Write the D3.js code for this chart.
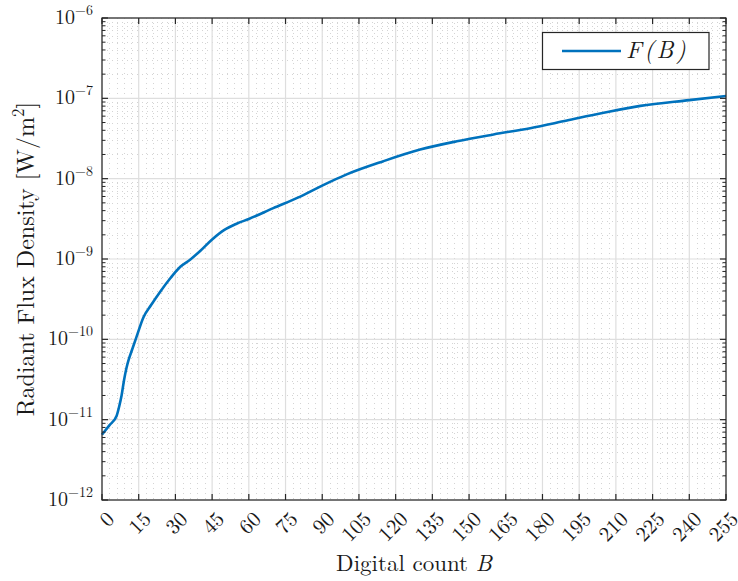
<!DOCTYPE html>
<html>
<head>
<meta charset="utf-8">
<script src="https://cdn.jsdelivr.net/npm/d3@7"></script>
<style>
  html, body { margin: 0; padding: 0; background: #fff; }
  svg { display: block; }
</style>
</head>
<body>
<svg id="chart" width="738" height="581"></svg>
<script>
// Digital count samples and the corresponding radiant flux density F(B) in W/m^2
const counts = [0, 3, 6, 7, 8, 9, 10, 11, 12, 14, 17, 20, 24, 28, 32, 36, 40, 45, 50, 55, 60,
                70, 80, 90, 100, 115, 130, 145, 160, 175, 190, 205, 220, 240, 255];
const flux = [6.5e-12, 8.5e-12, 1.12e-11, 1.45e-11, 2.0e-11, 3.1e-11, 4.4e-11, 5.7e-11, 7.0e-11,
              1.05e-10, 1.9e-10, 2.65e-10, 4.0e-10, 5.8e-10, 8.0e-10, 9.8e-10, 1.25e-9, 1.75e-9,
              2.3e-9, 2.75e-9, 3.15e-9, 4.3e-9, 5.8e-9, 8.2e-9, 1.13e-8, 1.65e-8, 2.3e-8, 2.92e-8,
              3.55e-8, 4.25e-8, 5.3e-8, 6.6e-8, 8.05e-8, 9.5e-8, 1.07e-7];

const xTicks = d3.range(0, 256, 15);
const xMinor = d3.range(0, 256, 3);
const yTickExps = [-12, -11, -10, -9, -8, -7, -6];
const seriesLabel = "F(B)";

const svg = d3.select("#chart")
  .style("font-family", "'Latin Modern Roman', 'Liberation Serif', serif");
const plotL = 102, plotR = 726, plotT = 18, plotB = 500;
const textColor = "#1a1a1a";

const x = d3.scaleLinear().domain([0, 255]).range([plotL, plotR]);
const y = d3.scaleLog().domain([1e-12, 1e-6]).range([plotB, plotT]);

const yMajor = yTickExps.map(e => Math.pow(10, e));
const yMinor = [];
yTickExps.slice(0, -1).forEach(e => {
  for (let k = 2; k <= 9; k++) yMinor.push(k * Math.pow(10, e));
});

const g = svg.append("g");

// minor grid (dotted)
const minorColor = "#d4d4d4";
g.selectAll(".xminor").data(xMinor.filter(v => v % 15 !== 0)).join("line")
  .attr("x1", d => Math.round(x(d)) + 0.5).attr("x2", d => Math.round(x(d)) + 0.5)
  .attr("y1", plotT).attr("y2", plotB)
  .attr("stroke", minorColor).attr("stroke-width", 1)
  .attr("stroke-dasharray", "1,4");
g.selectAll(".yminor").data(yMinor).join("line")
  .attr("x1", plotL).attr("x2", plotR)
  .attr("y1", d => Math.round(y(d)) + 0.5).attr("y2", d => Math.round(y(d)) + 0.5)
  .attr("stroke", minorColor).attr("stroke-width", 1)
  .attr("stroke-dasharray", "1,4");

// major grid
const majorColor = "#dedede";
g.selectAll(".xmajor").data(xTicks).join("line")
  .attr("x1", d => x(d)).attr("x2", d => x(d))
  .attr("y1", plotT).attr("y2", plotB)
  .attr("stroke", majorColor).attr("stroke-width", 1.2);
g.selectAll(".ymajor").data(yMajor).join("line")
  .attr("x1", plotL).attr("x2", plotR)
  .attr("y1", d => y(d)).attr("y2", d => y(d))
  .attr("stroke", majorColor).attr("stroke-width", 1.2);

// data curve
const line = d3.line()
  .x((d, i) => x(counts[i]))
  .y(d => y(d))
  .curve(d3.curveMonotoneX);
g.append("path")
  .datum(flux)
  .attr("d", line)
  .attr("fill", "none")
  .attr("stroke", "#0072BD")
  .attr("stroke-width", 2.6)
  .attr("stroke-linejoin", "round");

// axes box
const axisColor = "#262626";
g.append("rect")
  .attr("x", plotL).attr("y", plotT)
  .attr("width", plotR - plotL).attr("height", plotB - plotT)
  .attr("fill", "none").attr("stroke", axisColor).attr("stroke-width", 1.2);

// x ticks (inward, bottom and top)
const tickLen = 6, minorLen = 3.5;
xTicks.forEach(v => {
  g.append("line").attr("x1", x(v)).attr("x2", x(v)).attr("y1", plotB).attr("y2", plotB - tickLen)
    .attr("stroke", axisColor).attr("stroke-width", 1.2);
  g.append("line").attr("x1", x(v)).attr("x2", x(v)).attr("y1", plotT).attr("y2", plotT + tickLen)
    .attr("stroke", axisColor).attr("stroke-width", 1.2);
});
// y ticks (inward, left and right)
yMajor.forEach(v => {
  g.append("line").attr("x1", plotL).attr("x2", plotL + tickLen).attr("y1", y(v)).attr("y2", y(v))
    .attr("stroke", axisColor).attr("stroke-width", 1.2);
  g.append("line").attr("x1", plotR).attr("x2", plotR - tickLen).attr("y1", y(v)).attr("y2", y(v))
    .attr("stroke", axisColor).attr("stroke-width", 1.2);
});
yMinor.forEach(v => {
  g.append("line").attr("x1", plotL).attr("x2", plotL + minorLen).attr("y1", y(v)).attr("y2", y(v))
    .attr("stroke", axisColor).attr("stroke-width", 1);
  g.append("line").attr("x1", plotR).attr("x2", plotR - minorLen).attr("y1", y(v)).attr("y2", y(v))
    .attr("stroke", axisColor).attr("stroke-width", 1);
});

// x tick labels, rotated
g.selectAll(".xlab").data(xTicks).join("text")
  .attr("transform", d => `translate(${x(d) + 7},${plotB + 14}) rotate(-45)`)
  .attr("text-anchor", "end")
  .attr("dominant-baseline", "central")
  .attr("font-size", 21)
  .attr("fill", textColor)
  .text(d => d);

// y tick labels: 10 with superscript exponent
yTickExps.forEach(e => {
  const t = g.append("text")
    .attr("x", 93).attr("y", y(Math.pow(10, e)) + 6)
    .attr("text-anchor", "end")
    .attr("font-size", 20)
    .attr("fill", textColor);
  t.append("tspan").text("10");
  t.append("tspan").attr("dy", -9).attr("font-size", 14).text("\u2212" + Math.abs(e));
});

// axis titles
const xt = g.append("text")
  .attr("x", 414).attr("y", 571)
  .attr("text-anchor", "middle").attr("font-size", 23)
  .attr("fill", textColor);
xt.append("tspan").text("Digital count ");
xt.append("tspan").attr("font-style", "italic").text("B");

const yt = g.append("text")
  .attr("transform", `translate(34,${(plotT + plotB) / 2}) rotate(-90)`)
  .attr("text-anchor", "middle").attr("font-size", 24)
  .attr("fill", textColor);
yt.append("tspan").text("Radiant Flux Density [W/m");
yt.append("tspan").attr("dy", -10).attr("font-size", 17).text("2");
yt.append("tspan").attr("dy", 10).text("]");

// legend
const lg = g.append("g");
lg.append("rect")
  .attr("x", 542.5).attr("y", 32.5).attr("width", 166.5).attr("height", 37)
  .attr("fill", "#fff").attr("stroke", axisColor).attr("stroke-width", 1.2);
lg.append("line")
  .attr("x1", 562).attr("x2", 621).attr("y1", 51).attr("y2", 51)
  .attr("stroke", "#0072BD").attr("stroke-width", 2.6);
lg.append("text")
  .attr("x", 626).attr("y", 58)
  .attr("font-size", 24).attr("font-style", "italic")
  .attr("letter-spacing", 2.5)
  .attr("fill", textColor)
  .text(seriesLabel);
</script>
</body>
</html>
